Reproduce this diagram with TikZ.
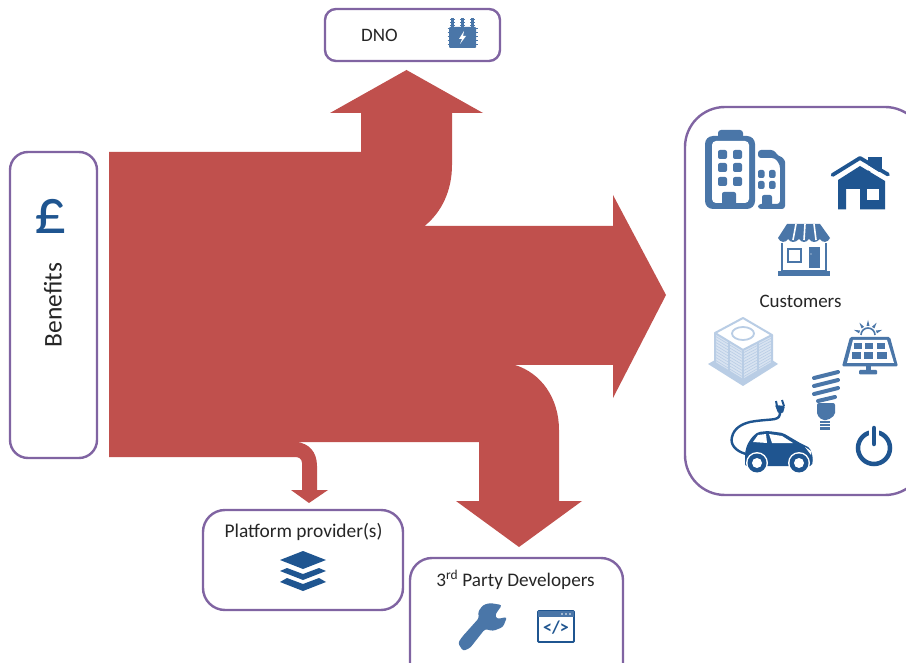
\documentclass[tikz,border=0pt]{standalone}
\usepackage{fontspec}
\setmainfont{Carlito}
\definecolor{flow}{HTML}{C0504D}
\definecolor{edge}{HTML}{8064A2}
\definecolor{navy}{HTML}{1F5590}
\definecolor{midblue}{HTML}{4A76A8}
\definecolor{pale}{HTML}{B9CDE5}
\tikzset{
  framebox/.style={draw=edge,line width=2.4pt,fill=white,rectangle,inner sep=0pt,anchor=center},
  label/.style={text=black!85,inner sep=0pt,anchor=center},
  navyfill/.style={fill=navy,draw=none},
  midfill/.style={fill=midblue,draw=none},
  cutout/.style={fill=white,draw=none}
}
\begin{document}
\begin{tikzpicture}[x=1pt,y=-1pt]
\clip (0,0) rectangle (906,663);
\fill[white] (0,0) rectangle (906,663);
% boxes
\node[framebox,rounded corners=18pt,minimum width=87pt,minimum height=306pt] (benefits) at (53.5,305) {};
\node[framebox,rounded corners=11pt,minimum width=175pt,minimum height=52pt] (dno) at (412.5,35) {};
\node[framebox,rounded corners=40pt,minimum width=240pt,minimum height=388pt] (customers) at (805,301) {};
\node[framebox,rounded corners=22pt,minimum width=200pt,minimum height=100pt] (platform) at (303,560) {};
\node[framebox,rounded corners=22pt,minimum width=213pt,minimum height=130pt] (developers) at (516.5,623) {};
% flow
\fill[flow] (109,152) -- (361,152) -- (361,113) -- (330,113) -- (406.5,70) -- (483,113) -- (452,113) -- (452,165)
  .. controls (452,190) and (442,212) .. (424.5,226) -- (613,226) -- (613,195) -- (666,295) -- (613,398) -- (613,365) -- (515,365)
  .. controls (541,373) and (559,398) .. (559,430) -- (559,501) -- (582,501) -- (519,547) -- (456,501) -- (479,501) -- (479,442)
  -- (296,442) .. controls (309,443) and (317,452) .. (317,466) -- (317,490) -- (328,490) -- (309,503) -- (291,490) -- (302,490) -- (302,463)
  .. controls (302,459) and (299,457) .. (295,457) -- (109,457) -- cycle;
% labels
\node[label,rotate=90,font=\fontsize{25.5}{27}\selectfont] (benefitstext) at (53,305) {Benefits};
\node[label,font=\fontsize{64}{66}\selectfont,text=navy] (pound) at (51,216) {£};
\node[label,font=\fontsize{19}{21}\selectfont] (dnotext) at (379.5,35.5) {DNO};
\node[label,font=\fontsize{19}{21}\selectfont] (customerstext) at (800.5,301) {Customers};
\node[label,font=\fontsize{19.4}{21}\selectfont] (platformtext) at (303.5,532) {Platform provider(s)};
\node[label,font=\fontsize{19.2}{21}\selectfont] (devtext) at (515.5,580) {3\textsuperscript{rd} Party Developers};
% DNO icon
\fill[midfill,rounded corners=1pt] (449,27) rectangle (476,48);
\foreach \bx in {452.5,462.5,472.5}{
  \draw[midblue,line width=2.5pt] (\bx,18) -- (\bx,28);
  \foreach \by in {20,23,26}{\draw[midblue,line width=1pt] (\bx-2.5,\by) -- (\bx+2.5,\by);}
}
\foreach \by in {29,33,37,41,45}{\draw[midblue,line width=1pt] (447.5,\by) -- (477.5,\by);}
\fill[cutout] (464,31) -- (459,39) -- (462,39) -- (460,44) -- (466,36) -- (463,36) -- cycle;
% big building
\fill[midfill,rounded corners=8pt] (705,136) rectangle (755,209);
\fill[midfill,rounded corners=3pt] (718,130) rectangle (743,142);
\fill[cutout,rounded corners=4pt] (712,141) rectangle (749,203);
\foreach \wx in {718,733}{\foreach \wy in {150,163,177}{
  \fill[midfill,rounded corners=2pt] (\wx,\wy) rectangle ++(9,9);}}
\fill[midfill,rounded corners=2pt] (722,192) rectangle (736,209);
% small building
\fill[midfill,rounded corners=3pt] (758,150) -- (774,150) -- (778,156) .. controls (782,157) and (785,160) .. (785,165) -- (785,209) -- (758,209) -- (758,204) -- (780,204) -- (780,165) -- (775,158) -- (758,158) -- cycle;
\foreach \wx in {758,769}{\foreach \wy in {170,181}{
  \fill[midfill,rounded corners=2pt] (\wx,\wy) rectangle ++(6.5,8);}}
\fill[midfill,rounded corners=2pt] (762,195) rectangle (772,209);
% house
\fill[navyfill] (868,157) rectangle (882,172);
\fill[cutout] (860,160) -- (885,176) -- (885,181) -- (860,165) -- (836,181) -- (836,176) -- cycle;
\fill[navyfill] (838,180) -- (860,166) -- (885,181) -- (885,209.5) -- (860,209.5) -- (860,189) -- (846,189) -- (846,209.5) -- (838,209.5) -- cycle;
\draw[navy,line width=3.8pt,line cap=round,line join=round] (832.5,175) -- (860,158) -- (888,174.5);
\fill[cutout] (867,189) rectangle (879,200.5);
% shop
\fill[midfill] (787,224) -- (820,224) -- (830,238) .. controls (828,243) and (822,243) .. (820,239) .. controls (816,243) and (812,243) .. (809,239) .. controls (806,243) and (802,243) .. (799,239) .. controls (795,243) and (791,243) .. (788,239) .. controls (786,243) and (780,243) .. (778,238) -- cycle;
\foreach \sx/\sb in {796/793,805/804,814/816}{\draw[white,line width=1.6pt] (\sx,224) -- (\sb,240);}
\draw[midblue,line width=2pt] (782,243) -- (782,271) -- (826,271) -- (826,243);
\fill[midfill] (778,271) rectangle (830,276);
\draw[midblue,line width=1.8pt] (788,249) rectangle (801,262);
\fill[midfill] (809,247) rectangle (820,268);
\fill[cutout] (811,254) circle (0.7pt);
% AC unit
\fill[pale] (708,364) -- (715,360) -- (772,360) -- (778,364) -- (743,386) -- cycle;
\fill[pale!55] (715,333) -- (743,350) -- (743,380) -- (715,363) -- cycle;
\fill[pale!55] (772,335) -- (743,350) -- (743,380) -- (772,363) -- cycle;
\foreach \tt in {0.1,0.2,...,0.95}{
  \draw[pale,line width=0.6pt] (715,333+30*\tt) -- (743,350+30*\tt);
  \draw[pale,line width=0.6pt] (772,335+28*\tt) -- (743,350+30*\tt);
}
\draw[pale,line width=2pt,line join=round,fill=white] (743,318) -- (772,335) -- (743,350) -- (715,333) -- cycle;
\draw[pale,line width=1.8pt] (743,333.5) ellipse (11pt and 6.5pt);
\draw[pale,line width=2pt] (715,333) -- (715,363) -- (743,380) -- (772,363) -- (772,335);
\draw[pale,line width=2pt] (743,350) -- (743,380) (729,342) -- (729,372) (758,343) -- (758,371);
% solar panel
\fill[midfill,rounded corners=1.5pt] (850,337) -- (890,337) -- (898,366.5) -- (842,366.5) -- cycle;
\fill[cutout] (853,340) -- (887,340) -- (894,363) -- (847,363) -- cycle;
\foreach \cx/\cw in {854/8,865/8,877/8}{\fill[midfill] (\cx,343) rectangle ++(\cw,6);}
\foreach \cx/\cw in {852/9,864/9,877/10}{\fill[midfill] (\cx,352) rectangle ++(\cw,7);}
\fill[midfill] (866,366) rectangle (871,371);
\fill[midfill,rounded corners=1pt] (859,370) rectangle (877,374.5);
\draw[midblue,line width=1.6pt] (861,335) arc[start angle=180,end angle=0,radius=7pt];
\foreach \ra in {20,55,90,125,160}{
  \fill[midfill] ({868+9*cos(\ra)-1.5*sin(\ra)},{335-9*sin(\ra)-1.5*cos(\ra)}) -- ({868+9*cos(\ra)+1.5*sin(\ra)},{335-9*sin(\ra)+1.5*cos(\ra)}) -- ({868+15*cos(\ra)},{335-15*sin(\ra)}) -- cycle;
}
% bulb
\draw[midblue,line width=4pt,line cap=round] (814,378) -- (838,372) (814,386) -- (838,380) (814,394) -- (838,388) (818,401) -- (835,397);
\fill[midfill,rounded corners=2pt] (817,403) -- (835,403) -- (835,415) -- (828,420) -- (822,420) -- (817,415) -- cycle;
\fill[midfill] (820,421) rectangle (830,430);
\foreach \by in {423,426}{\draw[white,line width=0.7pt] (820,\by) -- (830,\by);}
% car
\draw[navy,line width=2.4pt,line cap=round] (746,454) .. controls (735,451) and (730,444) .. (732,437) .. controls (734,428) and (742,424) .. (750,422) .. controls (760,420) and (770,420) .. (775,419) .. controls (779,418) and (780,416) .. (780,412);
\fill[navyfill,rounded corners=1pt] (775,405) -- (785,406) -- (783,413) -- (778,413) -- cycle;
\draw[navy,line width=2pt] (776,401) -- (777,406) (782,400) -- (784,406);
\fill[navyfill,rounded corners=2pt] (745,466) -- (745,453) -- (747,445) -- (752,437) -- (758,432) -- (768,431) -- (783,433) -- (800,443) -- (810,448) -- (813,458) -- (812,466) -- cycle;
\fill[cutout] (753,442) -- (758,435) -- (766,434) -- (767,443) -- cycle;
\fill[cutout] (769,434) -- (782,436) -- (793,443) -- (772,443) -- cycle;
\fill[cutout] (805,447) -- (811,451) -- (811,455) -- cycle;
\foreach \wheelx in {757,799}{
  \fill[cutout] (\wheelx,463) circle (11pt);
  \fill[navyfill] (\wheelx,463) circle (9.5pt);
  \fill[cutout] (\wheelx,463) circle (5pt);
}
% power
\draw[navy,line width=4.5pt] (874,448) circle (16pt);
\draw[white,line width=10pt] (874,425) -- (874,440);
\draw[navy,line width=4.5pt,line cap=round] (874,428) -- (874,444);
% stack
\fill[navyfill] (280,560) -- (303,551) -- (326,560) -- (303,569) -- cycle;
\fill[navyfill] (280,571) -- (287,568) -- (303,574) -- (319,568) -- (326,571) -- (303,580) -- cycle;
\fill[navyfill] (280,582) -- (287,578) -- (303,584) -- (319,578) -- (326,582) -- (303,591) -- cycle;
% wrench
\fill[midfill,rounded corners=2.5pt] (490,603) -- (502,605) -- (495,615) -- (497,619) -- (507,617) -- (503,627) -- (493,631) -- (485,629) -- (470,648) -- (463,651) -- (458,643) -- (462,637) -- (479,618) -- (478,612) -- (483,605) -- cycle;
% code window
\draw[navy,line width=1.8pt,rounded corners=1pt] (538,611) rectangle (574,642);
\fill[midfill] (538,611) rectangle (574,617);
\foreach \dx in {562,566,570}{\fill[cutout] (\dx,614) circle (0.9pt);}
\node[inner sep=0pt,text=navy,font=\fontsize{18}{19}\selectfont\bfseries] (codetext) at (556,628) {</>};
\end{tikzpicture}
\end{document}
